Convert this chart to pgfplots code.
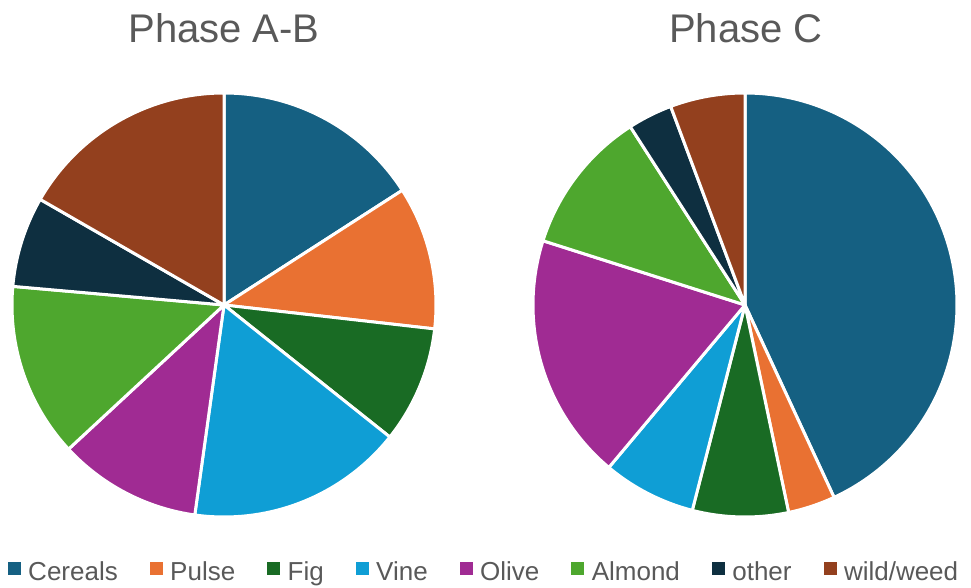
\documentclass[border=0pt]{standalone}
\usepackage{fontspec}
\setmainfont{Liberation Sans}
\usepackage{pgfplots}
\usepackage{pgfplotstable}
\pgfplotsset{compat=1.18}
\definecolor{cCereals}{HTML}{156082}
\definecolor{cPulse}{HTML}{E97132}
\definecolor{cFig}{HTML}{196B24}
\definecolor{cVine}{HTML}{0F9ED5}
\definecolor{cOlive}{HTML}{A02B93}
\definecolor{cAlmond}{HTML}{4EA72E}
\definecolor{cOther}{HTML}{0E2F40}
\definecolor{cWild}{HTML}{93401E}
\definecolor{txtgray}{HTML}{595959}

\pgfplotstableread{
cat value color
Cereals 15.9 cCereals
Pulse 10.9 cPulse
Fig 8.9 cFig
Vine 16.5 cVine
Olive 10.9 cOlive
Almond 13.3 cAlmond
other 6.9 cOther
wild/weed 16.7 cWild
}\phaseAB
\pgfplotstableread{
cat value color
Cereals 43.1 cCereals
Pulse 3.6 cPulse
Fig 7.3 cFig
Vine 7.1 cVine
Olive 18.8 cOlive
Almond 11.0 cAlmond
other 3.4 cOther
wild/weed 5.7 cWild
}\phaseC

\newcommand\drawpie[4]{% table, cx, cy, r
  \def\cum{0}%
  \pgfplotstablegetrowsof{#1}%
  \pgfmathtruncatemacro\nrows{\pgfplotsretval-1}%
  \pgfplotsforeachungrouped \i in {0,...,\nrows}{%
    \pgfplotstablegetelem{\i}{value}\of{#1}\let\v\pgfplotsretval
    \pgfplotstablegetelem{\i}{color}\of{#1}\let\c\pgfplotsretval
    \pgfmathsetmacro\a{90-3.6*\cum}%
    \pgfmathsetmacro\b{90-3.6*(\cum+\v)}%
    \pgfmathsetmacro\cum{\cum+\v}%
    \edef\temp{\noexpand\addplot[fill=\c, draw=white, line width=3pt, line join=round, domain=\b:\a, samples=90, forget plot] ({#2+#4*cos(x)},{#3+#4*sin(x)}) -- (axis cs:#2,#3) -- cycle;}%
    \temp
  }%
}

\begin{document}
\begin{tikzpicture}
\begin{axis}[
  x=1pt, y=1pt,
  xmin=0, xmax=971, ymin=0, ymax=588,
  hide axis, clip=false,
  legend style={at={(axis cs:484,16)}, anchor=center, draw=none, fill=none,
    legend columns=-1, font=\fontsize{26}{28}\selectfont, text=txtgray,
    /tikz/every even column/.append style={column sep=30pt},
    /tikz/every odd column/.append style={column sep=6pt},
    inner sep=0pt},
  legend cell align=left,
]
\path (axis cs:0,0) rectangle (axis cs:971,588);
\drawpie{\phaseAB}{224}{283}{212}
\drawpie{\phaseC}{745}{283}{212}

\addlegendimage{legend image code/.code={\fill[cCereals] (0pt,-2pt) rectangle (12pt,10pt);}}
\addlegendentry{Cereals}
\addlegendimage{legend image code/.code={\fill[cPulse] (0pt,-2pt) rectangle (12pt,10pt);}}
\addlegendentry{Pulse}
\addlegendimage{legend image code/.code={\fill[cFig] (0pt,-2pt) rectangle (12pt,10pt);}}
\addlegendentry{Fig}
\addlegendimage{legend image code/.code={\fill[cVine] (0pt,-2pt) rectangle (12pt,10pt);}}
\addlegendentry{Vine}
\addlegendimage{legend image code/.code={\fill[cOlive] (0pt,-2pt) rectangle (12pt,10pt);}}
\addlegendentry{Olive}
\addlegendimage{legend image code/.code={\fill[cAlmond] (0pt,-2pt) rectangle (12pt,10pt);}}
\addlegendentry{Almond}
\addlegendimage{legend image code/.code={\fill[cOther] (0pt,-2pt) rectangle (12pt,10pt);}}
\addlegendentry{other}
\addlegendimage{legend image code/.code={\fill[cWild] (0pt,-2pt) rectangle (12pt,10pt);}}
\addlegendentry{wild/weed}

\node[anchor=base, text=txtgray, font=\fontsize{40}{44}\selectfont] at (axis cs:224,545) {Phase A-B};
\node[anchor=base, text=txtgray, font=\fontsize{40}{44}\selectfont] at (axis cs:746,545) {Phase C};
\end{axis}
\end{tikzpicture}
\end{document}
